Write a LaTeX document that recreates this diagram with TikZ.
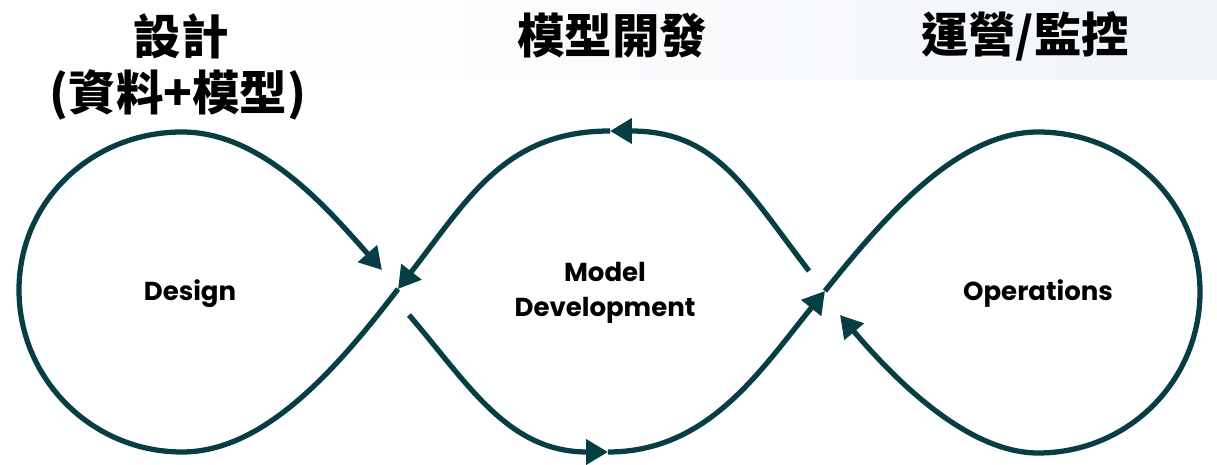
\documentclass[tikz,border=0pt]{standalone}
\usepackage{fontspec}
\setmainfont{Poppins}
\newfontfamily\cjk{Noto Sans CJK TC}
\usetikzlibrary{arrows.meta}
\definecolor{loopteal}{RGB}{6,62,68}
\definecolor{bandblue}{RGB}{240,244,249}

\begin{document}
\begin{tikzpicture}[x=0.02cm, y=-0.02cm,
  loop/.style={line width=3pt, color=loopteal},
  tip/.style={-{Triangle[length=12.5pt,width=14pt]}},
  lab/.style={font=\fontsize{14.8}{20}\selectfont\bfseries, text=black, align=center},
  ttl/.style={font=\cjk\fontsize{27}{32}\selectfont\bfseries, text=black}]
\useasboundingbox (0,0) rectangle (1217,465);
\shade[left color=white, right color=bandblue] (240,0) rectangle (1217,80);

\node[ttl] (design-t) at (181,36) {設計};
\node[ttl] (design-s) at (178,95) {(資料+模型)};
\node[ttl] (model-t) at (612,36) {模型開發};
\node[ttl] (ops-t) at (1025,36) {運營/監控};
\node[lab] (design) at (190,294) {Design};
\node[lab] (model) at (605,293) {Model\\Development};
\node[lab] (ops) at (1038,294) {Operations};

\coordinate (top) at (610,131);
\coordinate (xl) at (398,289);
\coordinate (al) at (382,270);
\coordinate (gl) at (409,315);
\coordinate (bot) at (608,452);
\coordinate (xr) at (825,291);
\coordinate (ar) at (840,315);
\coordinate (gr) at (809,271);
\coordinate (lb) at (182,452);
\coordinate (lw) at (19,290);
\coordinate (lt) at (182,132);
\coordinate (rt) at (1038,132);
\coordinate (re) at (1200,292);
\coordinate (rb) at (1038,453);

\draw[loop,tip] (gr) .. controls +(-65,-85) and +(105,0) .. (top);
\draw[loop,tip] (top) .. controls +(-105,0) and +(70,-90) .. (xl);
\draw[loop,tip] (xl) .. controls +(-65,85) and +(80,0) .. (lb)
  .. controls +(-90,0) and +(0,89) .. (lw)
  .. controls +(0,-89) and +(-90,0) .. (lt)
  .. controls +(80,0) and +(-55,-62) .. (al);
\draw[loop,tip] (gl) .. controls +(60,70) and +(-100,0) .. (bot);
\draw[loop,tip] (bot) .. controls +(100,0) and +(-65,80) .. (xr);
\draw[loop,tip] (xr) .. controls +(60,-75) and +(-80,0) .. (rt)
  .. controls +(90,0) and +(0,-89) .. (re)
  .. controls +(0,89) and +(90,0) .. (rb)
  .. controls +(-70,0) and +(55,65) .. (ar);
\end{tikzpicture}
\end{document}
